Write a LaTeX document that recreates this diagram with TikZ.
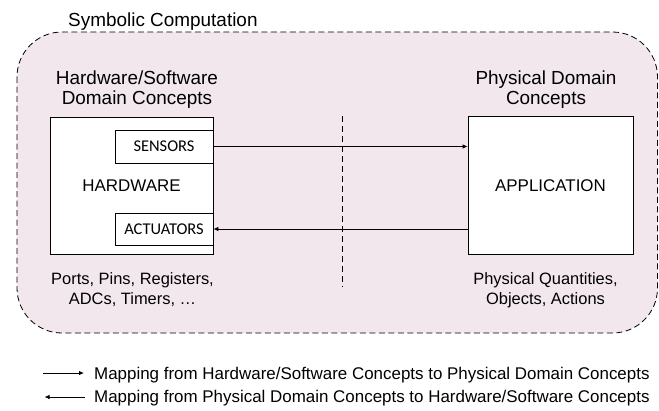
\documentclass[tikz,border=0pt]{standalone}
\usepackage{fontspec}
\setmainfont{Liberation Sans}
\newfontfamily\capsfont{Carlito}
\usetikzlibrary{arrows.meta}
\definecolor{symbpink}{RGB}{243,231,238}
\tikzset{
  thinline/.style={line width=0.8bp},
  hwbox/.style={draw,thinline,fill=white,inner sep=0pt,
    font=\fontsize{17}{20}\selectfont,text height=12.2bp,text depth=0pt},
  portbox/.style={hwbox,font=\capsfont\fontsize{16.5}{18}\selectfont,text height=10.6bp},
  heading/.style={align=center,inner sep=0pt,font=\fontsize{19}{20.5}\selectfont},
  note/.style={align=center,inner sep=0pt,font=\fontsize{16.5}{19.8}\selectfont},
  legend/.style={anchor=base west,inner sep=0pt,font=\fontsize{17}{20}\selectfont},
  maparrow/.style={thinline,-{Latex[length=5bp,width=4.5bp]}},
}

\begin{document}
\begin{tikzpicture}[x=1bp,y=-1bp]
  \useasboundingbox (0,0) rectangle (659,410);
  %% symbolic computation region
  \draw[thinline,dash pattern=on 6bp off 3.5bp,fill=symbpink,rounded corners=45bp] (17,32) rectangle (657.5,333);
  \node[anchor=base west,inner sep=0pt,font=\fontsize{19}{21}\selectfont] (symb) at (68,26.5) {Symbolic Computation};

  \node[heading,anchor=north] (hwtitle) at (137,70.5) {Hardware/Software\\Domain Concepts};
  \node[heading,anchor=north] (phtitle) at (546,70.5) {Physical Domain\\Concepts};

  \node[hwbox,minimum width=163bp,minimum height=137bp] (hw) at (131.5,185.5) {HARDWARE};
  \node[portbox,minimum width=98bp,minimum height=33bp] (sensors) at (164,146.5) {SENSORS};
  \node[portbox,minimum width=98bp,minimum height=32bp] (actuators) at (164,229) {ACTUATORS};
  \node[hwbox,minimum width=165bp,minimum height=138bp] (app) at (550.5,185) {APPLICATION};

  \draw[maparrow] (sensors.east) -- (sensors.east -| app.west);
  \draw[maparrow] (actuators.east -| app.west) -- (actuators.east);
  %\draw[yellow] (0,185)--(659,185); %guide line
  \draw[thinline,dash pattern=on 6bp off 4bp] (342,116) -- (342,287);

  \node[note,anchor=north] (hwnote) at (132.5,272.5) {Ports, Pins, Registers,\\ADCs, Timers, …};
  \node[note,anchor=north] (phnote) at (545.5,272.5) {Physical Quantities,\\Objects, Actions};

  %% legend
  \node[legend] (fwdtext) at (94,379) {Mapping from Hardware/Software Concepts to Physical Domain Concepts};
  \node[legend] (bwdtext) at (94,402.5) {Mapping from Physical Domain Concepts to Hardware/Software Concepts};
  \coordinate (fwdA) at (43,373);
  \coordinate (fwdB) at (84,373);
  \coordinate (bwdA) at (84.5,397);
  \coordinate (bwdB) at (44.5,397);
  \draw[maparrow] (fwdA) -- (fwdB);
  \draw[maparrow] (bwdA) -- (bwdB);
\end{tikzpicture}
\end{document}
